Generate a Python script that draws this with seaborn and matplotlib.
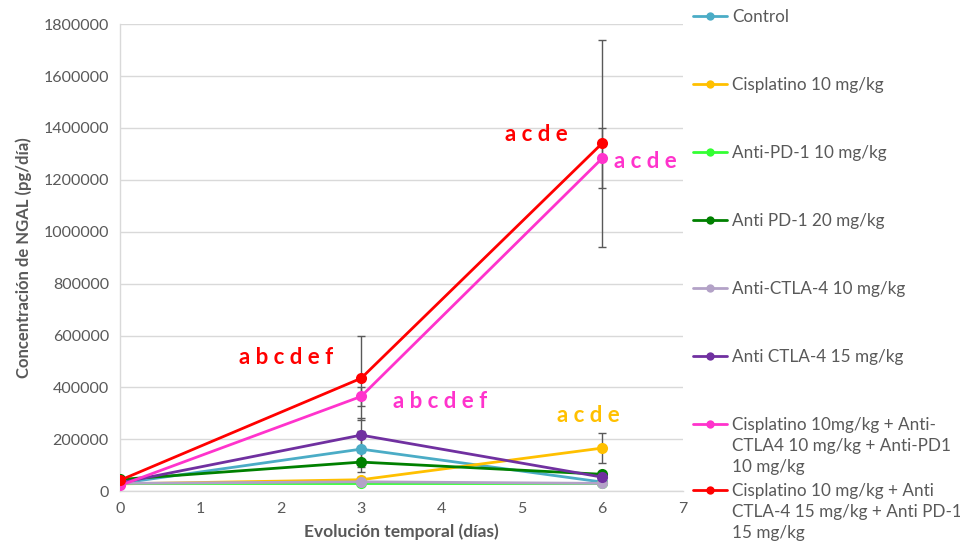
import matplotlib
matplotlib.use("Agg")
import matplotlib.pyplot as plt
from matplotlib.lines import Line2D
import numpy as np
import pandas as pd
import seaborn as sns

# Time points (days)
days = [0, 3, 6]

# Group names
groups = [
    "Control",
    "Cisplatino 10 mg/kg",
    "Anti-PD-1 10 mg/kg",
    "Anti PD-1 20 mg/kg",
    "Anti-CTLA-4 10 mg/kg",
    "Anti CTLA-4 15 mg/kg",
    "Cisplatino 10mg/kg + Anti-\nCTLA4 10 mg/kg + Anti-PD1\n10 mg/kg",
    "Cisplatino 10 mg/kg + Anti\nCTLA-4 15 mg/kg + Anti PD-1\n15 mg/kg",
]

colors = ["#4BACC6", "#FFC000", "#33FF33", "#008000",
          "#B3A2C7", "#7030A0", "#FF33CC", "#FF0000"]

# Mean NGAL concentration (pg/día) per group at days 0, 3, 6
control = [30000, 162000, 35000]
cisplatino = [28000, 44000, 166000]
anti_pd1_10 = [30000, 30000, 30000]
anti_pd1_20 = [45000, 112000, 65000]
anti_ctla4_10 = [30000, 36000, 30000]
anti_ctla4_15 = [32000, 216000, 54000]
combo_10 = [22000, 365000, 1283000]
combo_15 = [42000, 435000, 1341000]

# Error (± SEM) per group at days 0, 3, 6
err_control = [5000, 70000, 5000]
err_cisplatino = [5000, 10000, 58000]
err_anti_pd1_10 = [3000, 3000, 3000]
err_anti_pd1_20 = [5000, 40000, 10000]
err_anti_ctla4_10 = [3000, 5000, 5000]
err_anti_ctla4_15 = [5000, 65000, 15000]
err_combo_10 = [5000, 35000, 116000]
err_combo_15 = [5000, 162000, 400000]

means = [control, cisplatino, anti_pd1_10, anti_pd1_20,
         anti_ctla4_10, anti_ctla4_15, combo_10, combo_15]
errs = [err_control, err_cisplatino, err_anti_pd1_10, err_anti_pd1_20,
        err_anti_ctla4_10, err_anti_ctla4_15, err_combo_10, err_combo_15]

rows = []
for g, m in zip(groups, means):
    for d, v in zip(days, m):
        rows.append({"Día": d, "NGAL": v, "Grupo": g})
df = pd.DataFrame(rows)

sns.set_theme(style="white")
plt.rcParams["font.family"] = ["Lato", "DejaVu Sans"]

fig = plt.figure(figsize=(9.6, 5.5), dpi=100)
ax = fig.add_axes([0.125, 0.107, 0.586, 0.849])

tick_gray = "#595959"

# error bars first so the lines sit on top
for m, e in zip(means, errs):
    ax.errorbar(days, m, yerr=e, fmt="none", ecolor="#595959",
                elinewidth=1, capsize=3, capthick=1, zorder=1)

sns.lineplot(data=df, x="Día", y="NGAL", hue="Grupo", hue_order=groups,
             palette=colors, marker="o", markersize=8, markeredgewidth=0,
             linewidth=2, legend=False, ax=ax, zorder=3)

ax.set_xlim(0, 7)
ax.set_ylim(0, 1800000)
ax.set_xticks(range(0, 8))
ax.set_yticks(np.arange(0, 1800001, 200000))
ax.set_yticklabels([str(v) for v in range(0, 1800001, 200000)])
ax.grid(axis="y", color="#D9D9D9", linewidth=1)
ax.grid(axis="x", visible=False)
for s in ["top", "right"]:
    ax.spines[s].set_visible(False)
for s in ["left", "bottom"]:
    ax.spines[s].set_color("#D9D9D9")
    ax.spines[s].set_linewidth(1)
ax.tick_params(axis="both", colors=tick_gray, labelsize=11.5, length=0, pad=8)
for lbl in ax.get_xticklabels() + ax.get_yticklabels():
    lbl.set_color(tick_gray)

ax.set_xlabel("Evolución temporal (días)", fontsize=12.5, fontweight="bold",
              color=tick_gray, labelpad=5)
ax.set_ylabel("Concentración de NGAL (pg/día)", fontsize=12, fontweight="bold",
              color=tick_gray, labelpad=8)

# significance letters
ann_kw = dict(fontsize=16, fontweight="bold", ha="center", va="center")
ax.text(2.07, 515000, "a b c d e f", color="#FF0000", **ann_kw)
ax.text(3.98, 345000, "a b c d e f", color="#FF33CC", **ann_kw)
ax.text(5.83, 290000, "a c d e", color="#FFC000", **ann_kw)
ax.text(5.18, 1375000, "a c d e", color="#FF0000", **ann_kw)
ax.text(6.54, 1270000, "a c d e", color="#FF33CC", **ann_kw)

# legend down the right side
W, H = 960, 550
legend_y = [16, 84, 152, 220, 288, 356, 424, 490]
for g, c, y in zip(groups, colors, legend_y):
    fy = 1 - y / H
    fig.add_artist(Line2D([693 / W, 727 / W], [fy, fy], color=c, linewidth=2,
                          transform=fig.transFigure))
    fig.add_artist(Line2D([710 / W], [fy], color=c, marker="o", markersize=6,
                          markeredgewidth=0, transform=fig.transFigure))
    fig.text(732 / W, fy + 7 / H, g, fontsize=12.3, color=tick_gray, va="top",
             ha="left", linespacing=1.38, transform=fig.transFigure)

fig.savefig("out.png", dpi=100, facecolor="white")
